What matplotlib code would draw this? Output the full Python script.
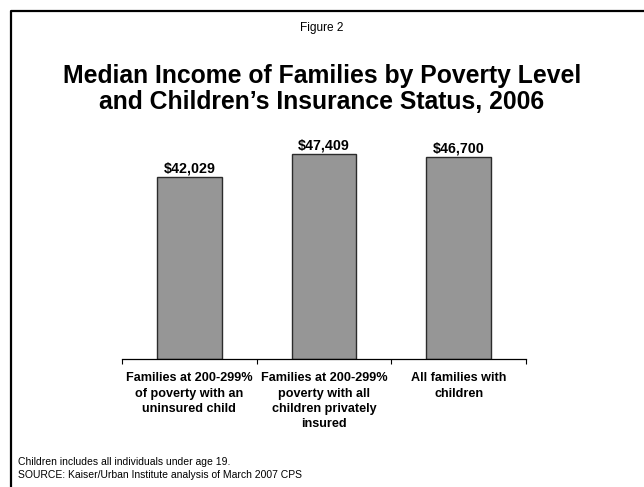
import matplotlib
matplotlib.use("Agg")
import matplotlib.pyplot as plt
from matplotlib.lines import Line2D

plt.rcParams['font.family'] = ['Liberation Sans', 'DejaVu Sans']

categories = [
    "Families at 200-299%\nof poverty with an\nuninsured child",
    "Families at 200-299%\npoverty with all\nchildren privately\ninsured",
    "All families with\nchildren",
]
median_income = [42029, 47409, 46700]

fig = plt.figure(figsize=(6.44, 4.87), dpi=100)
ax = fig.add_axes([0.1894, 0.2628, 0.6273, 0.4435])

x = list(range(len(categories)))
ax.bar(x, median_income, width=0.48, color='#969696', edgecolor='#2b2b2b', linewidth=1.0)

for xi, v in zip(x, median_income):
    ax.annotate("${:,}".format(v), (xi, v), xytext=(0, 1.5), textcoords='offset points',
                ha='center', va='bottom', fontsize=10.3, fontweight='bold')

ax.set_xlim(-0.5, len(categories) - 0.5)
ax.set_ylim(0, 50000)

# boundary ticks between categories, names sit on minor ticks
ax.set_xticks([i - 0.5 for i in range(len(categories) + 1)])
ax.set_xticklabels([])
ax.set_xticks(x, minor=True)
ax.set_xticklabels(categories, minor=True, fontsize=9.1, fontweight='bold', linespacing=1.38, va='top')
ax.tick_params(axis='x', which='major', direction='out', length=3.5, width=0.8)
ax.tick_params(axis='x', which='minor', length=0, pad=9.5)
ax.set_yticks([])
for side in ['left', 'right', 'top']:
    ax.spines[side].set_visible(False)
ax.spines['bottom'].set_linewidth(0.9)

fig.text(0.5, 1 - 28 / 487, "Figure 2", ha='center', va='center', fontsize=8.6)
fig.text(0.5, 1 - 89 / 487, "Median Income of Families by Poverty Level\nand Children\u2019s Insurance Status, 2006",
         ha='center', va='center', fontsize=17.8, fontweight='bold', linespacing=1.15)

fig.text(0.028, 1 - 465 / 487, "Children includes all individuals under age 19.", fontsize=7.5, va='baseline')
fig.text(0.028, 1 - 477.5 / 487, "SOURCE: Kaiser/Urban Institute analysis of March 2007 CPS", fontsize=7.5, va='baseline')

# slide frame (left and top edges)
bx, by = 10.5 / 644, 1 - 11 / 487
fig.add_artist(Line2D([bx, bx, 1.0], [0.0, by, by], transform=fig.transFigure, color='black', linewidth=1.6))

fig.savefig("out.png", dpi=100)
